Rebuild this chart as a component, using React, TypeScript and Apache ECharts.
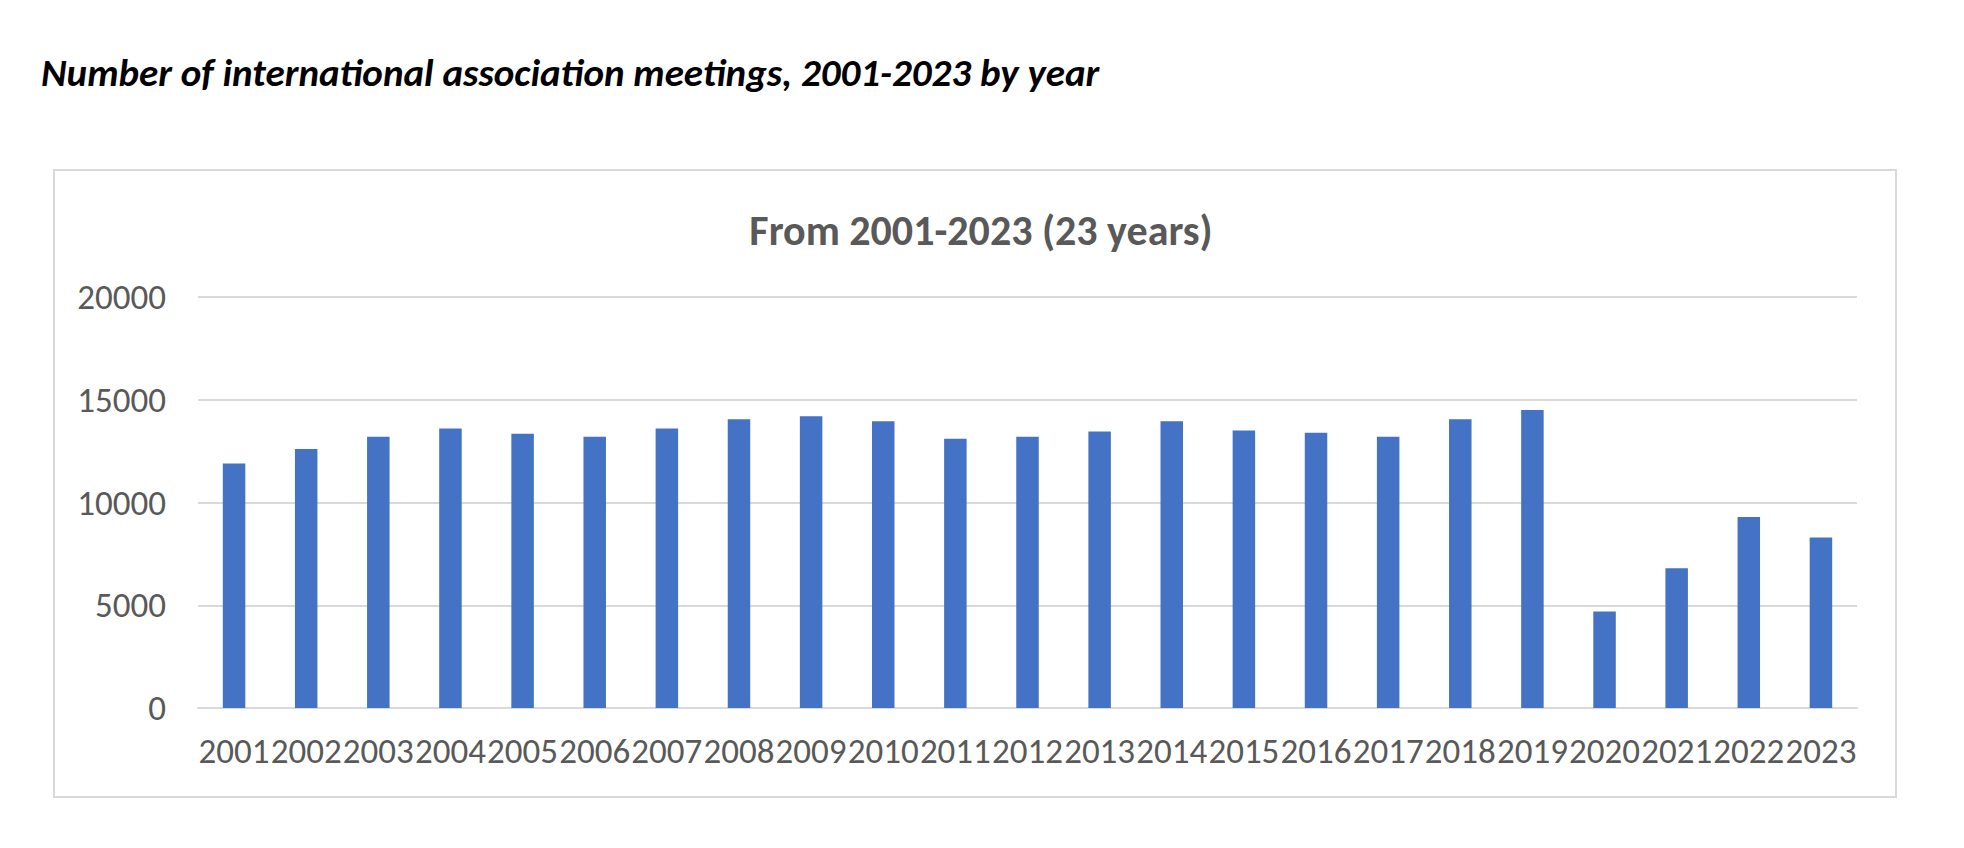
import React, { useEffect, useRef } from "react";
import * as echarts from "echarts";

const years: string[] = [
  "2001", "2002", "2003", "2004", "2005", "2006", "2007", "2008", "2009", "2010", "2011", "2012",
  "2013", "2014", "2015", "2016", "2017", "2018", "2019", "2020", "2021", "2022", "2023",
];
const meetings: number[] = [
  11900, 12600, 13200, 13600, 13350, 13200, 13600, 14050, 14200, 13950, 13100, 13200,
  13450, 13950, 13500, 13400, 13200, 14050, 14500, 4700, 6800, 9300, 8300,
];
const yTicks = { min: 0, max: 20000, interval: 5000 };
const mainTitle = "Number of international association meetings, 2001-2023 by year";
const chartTitle = "From 2001-2023 (23 years)";

const FONT = 'Carlito, Calibri, Lato, sans-serif';

export default function App() {
  const ref = useRef<HTMLDivElement>(null);
  useEffect(() => {
    if (!ref.current) return;
    const chart = echarts.init(ref.current, undefined, { renderer: "svg" });
    chart.setOption({
      animation: false,
      backgroundColor: "#ffffff",
      title: [
        {
          text: mainTitle,
          left: 36,
          top: 48,
          textStyle: {
            fontFamily: FONT,
            fontSize: 39,
            fontWeight: "bold",
            fontStyle: "italic",
            color: "#000000",
          },
        },
        {
          text: chartTitle,
          left: 976,
          top: 204,
          textAlign: "center",
          textStyle: {
            fontFamily: FONT,
            fontSize: 42,
            fontWeight: "bold",
            color: "#595959",
          },
        },
      ],
      graphic: [
        {
          type: "rect",
          shape: { x: 54, y: 170, width: 1842, height: 627 },
          style: { fill: "none", stroke: "#d9d9d9", lineWidth: 2 },
          silent: true,
        },
      ],
      grid: { left: 198, right: 107, top: 297, bottom: 140 },
      xAxis: {
        type: "category",
        data: years,
        axisLine: { show: true, lineStyle: { color: "#d9d9d9", width: 2 } },
        axisTick: { show: false },
        axisLabel: {
          color: "#595959",
          fontFamily: FONT,
          fontSize: 35,
          margin: 25,
          interval: 0,
        },
      },
      yAxis: {
        type: "value",
        min: yTicks.min,
        max: yTicks.max,
        interval: yTicks.interval,
        axisLine: { show: false },
        axisTick: { show: false },
        splitLine: { lineStyle: { color: "#d9d9d9", width: 2 } },
        axisLabel: {
          color: "#595959",
          fontFamily: FONT,
          fontSize: 35,
          margin: 32,
          formatter: (v: number) => String(v),
        },
      },
      series: [
        {
          type: "bar",
          data: meetings,
          barWidth: 22.5,
          itemStyle: { color: "#4472c4" },
        },
      ],
    });
    return () => chart.dispose();
  }, []);
  return (
    <div
      ref={ref}
      style={{ position: "fixed", left: 0, top: 0, width: 1964, height: 848, background: "#fff" }}
    />
  );
}
